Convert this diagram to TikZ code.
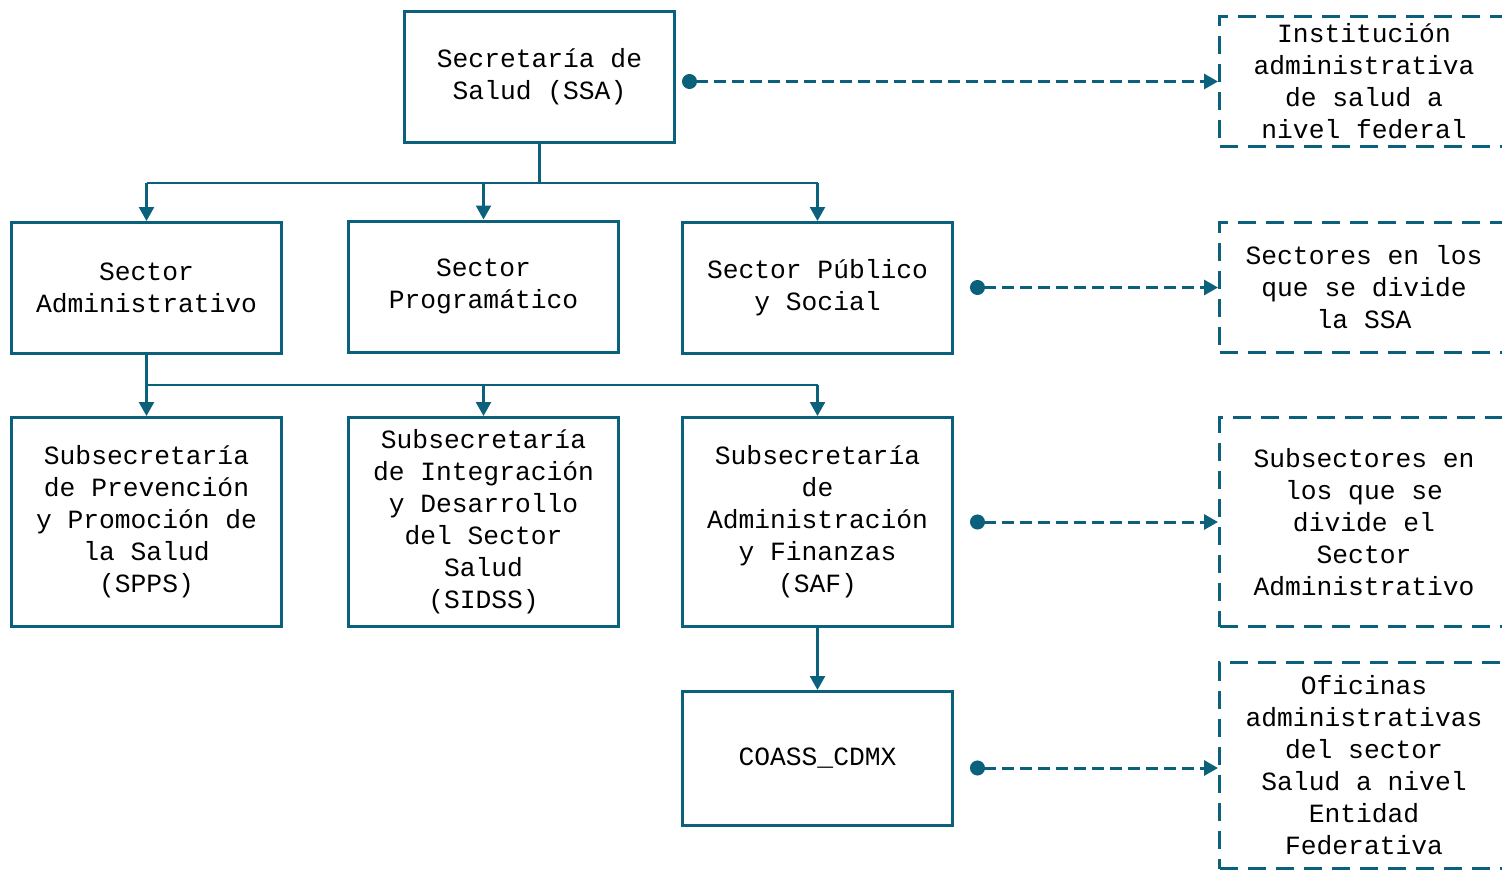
\documentclass[tikz,border=0pt]{standalone}
\usepackage{fontspec}
\setmainfont{Liberation Mono}
\usetikzlibrary{arrows.meta,positioning}
\definecolor{salud}{RGB}{11,96,124}

\begin{document}
\begin{tikzpicture}[x=1pt,y=-1pt,>={Triangle[length=14pt,width=15pt]},draw=salud]
\tikzstyle{caja}=[draw=salud,line width=3pt,minimum width=270pt,minimum height=131pt,align=center,inner sep=0pt,font=\fontsize{26.3}{32}\selectfont]
\tikzstyle{nota}=[caja,dash pattern=on 18pt off 10pt,minimum width=289pt]
\tikzstyle{rama}=[draw=salud,line width=2.4pt]
\tikzstyle{flecha}=[draw=salud,line width=3pt,dash pattern=on 12pt off 6pt,{Circle[length=15pt]}-{Triangle[length=14pt,width=15pt]}]
\useasboundingbox (0,0) rectangle (1502,872);

% organigrama
\node[caja] (ssa) at (539.5,77) {Secretaría de\\Salud (SSA)};
\node[caja] (sadm) at (146.5,288) {Sector\\Administrativo};
\node[caja] (sprog) at (483.5,286.5) {Sector\\Programático};
\node[caja] (spub) at (817.5,288) {Sector Público\\y Social};
\node[caja,minimum height=209pt] (spps) at (146.5,522) {Subsecretaría\\de Prevención\\y Promoción de\\la Salud\\(SPPS)};
\node[caja,minimum height=209pt] (sidss) at (483.5,522) {Subsecretaría\\de Integración\\y Desarrollo\\del Sector\\Salud\\(SIDSS)};
\node[caja,minimum height=209pt] (saf) at (817.5,522) {Subsecretaría\\de\\Administración\\y Finanzas\\(SAF)};
\node[caja,minimum height=134pt] (coass) at (817.5,758.5) {COASS\_CDMX};

% notas
\node[nota,minimum height=130pt] (inst) at (1364,81.5) {Institución\\administrativa\\de salud a\\nivel federal};
\node[nota,minimum height=130pt] (sect) at (1364,287.5) {Sectores en los\\que se divide\\la SSA};
\node[nota,minimum height=209pt] (subs) at (1364,522) {Subsectores en\\los que se\\divide el\\Sector\\Administrativo};
\node[nota,minimum height=206pt] (ofic) at (1364,765.5) {Oficinas\\administrativas\\del sector\\Salud a nivel\\Entidad\\Federativa};

% ramas
\draw[rama] (ssa.south) -- ++(0,39) coordinate (r1);
\draw[draw=salud,line width=1.8pt] (sadm.north |- r1) -- (spub.north |- r1);
\foreach \n in {sadm,sprog,spub}
  \draw[rama,->] (\n.north |- r1) -- (\n.north);
\draw[rama] (sadm.south) -- ++(0,30) coordinate (r2);
\draw[draw=salud,line width=1.8pt] (spps.north |- r2) -- (saf.north |- r2);
\foreach \n in {spps,sidss,saf}
  \draw[rama,->] (\n.north |- r2) -- (\n.north);
\draw[rama,->] (saf.south) -- (coass.north);

% notas laterales
\coordinate (p1) at (682,81.5);
\coordinate (p2) at (970,287.5);
\coordinate (p3) at (970,522);
\coordinate (p4) at (970,768);
\draw[flecha] (p1) -- (inst.west |- p1);
\draw[flecha] (p2) -- (sect.west |- p2);
\draw[flecha] (p3) -- (subs.west |- p3);
\draw[flecha] (p4) -- (ofic.west |- p4);
\end{tikzpicture}
\end{document}
